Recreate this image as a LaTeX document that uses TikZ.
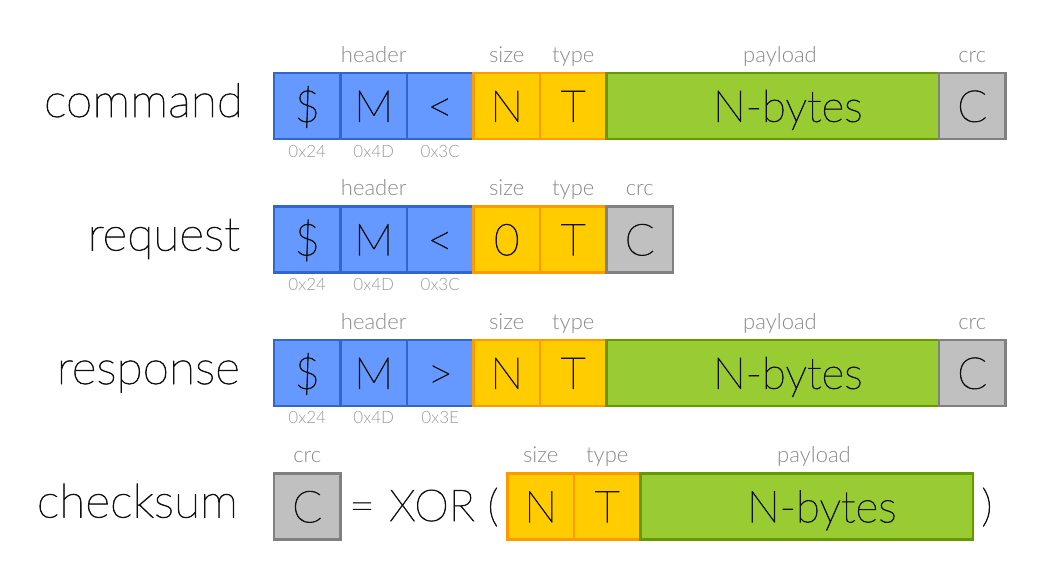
\documentclass[tikz,border=0pt]{standalone}
\usepackage{fontspec}
\setmainfont{Lato Thin}[FakeBold=1.6]
\newfontfamily\rowfont{Lato Thin}[FakeStretch=1.02,FakeBold=1.6]
\newfontfamily\smallfont{Lato Light}
\definecolor{bfill}{HTML}{6699FF}
\definecolor{bdraw}{HTML}{3366CC}
\definecolor{yfill}{HTML}{FFCC00}
\definecolor{ydraw}{HTML}{FF9900}
\definecolor{gfill}{HTML}{99CC33}
\definecolor{gdraw}{HTML}{669900}
\definecolor{cfill}{HTML}{C0C0C0}
\definecolor{cdraw}{HTML}{808080}
\definecolor{lbl}{HTML}{8A8A8A}
\definecolor{hexc}{HTML}{9A9A9A}
\definecolor{ink}{HTML}{111111}
\begin{document}
\begin{tikzpicture}[x=1pt,y=-1pt,
  cell/.style={line width=2.8pt, minimum width=66.5pt, minimum height=66pt, inner sep=0pt, text=ink,
    font=\fontsize{44}{44}\selectfont, text height=31.5pt, text depth=0pt},
  hdrcell/.style={cell, fill=bfill, draw=bdraw},
  sizecell/.style={cell, fill=yfill, draw=ydraw},
  paycell/.style={cell, fill=gfill, draw=gdraw, minimum width=332.5pt},
  crccell/.style={cell, fill=cfill, draw=cdraw},
  toplbl/.style={text=lbl, font=\smallfont\fontsize{22}{22}\selectfont, inner sep=0pt, anchor=base},
  hexlbl/.style={text=hexc, font=\smallfont\fontsize{17}{17}\selectfont, inner sep=0pt, anchor=base},
  rowlbl/.style={text=ink, font=\rowfont\fontsize{47}{47}\selectfont, anchor=base east, inner sep=0pt},
  optxt/.style={text=ink, font=\fontsize{44}{44}\selectfont, inner sep=0pt, anchor=base}
]
\useasboundingbox (0,0) rectangle (1052,584);
% ---------- command ----------
\node[rowlbl] (lcmd) at (243,117) {command};
\node[hdrcell] (a1) at (307.25,106) {\$};
\node[hdrcell] (a2) at (373.75,106) {M};
\node[hdrcell] (a3) at (440.25,106) {<};
\node[sizecell] (a4) at (506.75,106) {N};
\node[sizecell] (a5) at (573.25,106) {T};
\node[paycell] (a6) at (772.75,106) {\hspace*{30pt}N-bytes};
\node[crccell] (a7) at (972.25,106) {C};
\node[toplbl] (ah) at (373.75,62) {header};
\node[toplbl] (as) at (506.75,62) {size};
\node[toplbl] (at) at (573.25,62) {type};
\node[toplbl] (ap) at (780,62) {payload};
\node[toplbl] (ac) at (972.25,62) {crc};
\node[hexlbl] (ax1) at (307.25,157) {0x24};
\node[hexlbl] (ax2) at (373.75,157) {0x4D};
\node[hexlbl] (ax3) at (440.25,157) {0x3C};
% ---------- request ----------
\node[rowlbl] (lreq) at (240,250.5) {request};
\node[hdrcell] (b1) at (307.25,239.5) {\$};
\node[hdrcell] (b2) at (373.75,239.5) {M};
\node[hdrcell] (b3) at (440.25,239.5) {<};
\node[sizecell] (b4) at (506.75,239.5) {0};
\node[sizecell] (b5) at (573.25,239.5) {T};
\node[crccell] (b6) at (639.75,239.5) {C};
\node[toplbl] (bh) at (373.75,195) {header};
\node[toplbl] (bs) at (506.75,195) {size};
\node[toplbl] (bt) at (573.25,195) {type};
\node[toplbl] (bc) at (639.75,195) {crc};
\node[hexlbl] (bx1) at (307.25,290) {0x24};
\node[hexlbl] (bx2) at (373.75,290) {0x4D};
\node[hexlbl] (bx3) at (440.25,290) {0x3C};
% ---------- response ----------
\node[rowlbl] (lres) at (240,384) {response};
\node[hdrcell] (c1) at (307.25,373) {\$};
\node[hdrcell] (c2) at (373.75,373) {M};
\node[hdrcell] (c3) at (440.25,373) {>};
\node[sizecell] (c4) at (506.75,373) {N};
\node[sizecell] (c5) at (573.25,373) {T};
\node[paycell] (c6) at (772.75,373) {\hspace*{30pt}N-bytes};
\node[crccell] (c7) at (972.25,373) {C};
\node[toplbl] (ch) at (373.75,329) {header};
\node[toplbl] (cs) at (506.75,329) {size};
\node[toplbl] (ct) at (573.25,329) {type};
\node[toplbl] (cp) at (780,329) {payload};
\node[toplbl] (cc) at (972.25,329) {crc};
\node[hexlbl] (cx1) at (307.25,423) {0x24};
\node[hexlbl] (cx2) at (373.75,423) {0x4D};
\node[hexlbl] (cx3) at (440.25,423) {0x3E};
% ---------- checksum ----------
\node[rowlbl] (lchk) at (238,517.5) {checksum};
\node[crccell] (d1) at (307.25,506.5) {C};
\node[optxt] (deq) at (362,521) {=};
\node[optxt] (dxor) at (432,521) {XOR};
\node[optxt] (dlp) at (493,521) {(};
\node[sizecell] (d2) at (540.75,506.5) {N};
\node[sizecell] (d3) at (607.25,506.5) {T};
\node[paycell] (d4) at (806.75,506.5) {\hspace*{30pt}N-bytes};
\node[optxt] (drp) at (987,521) {)};
\node[toplbl] (dc) at (307.25,462) {crc};
\node[toplbl] (ds) at (540.75,462) {size};
\node[toplbl] (dt) at (607.25,462) {type};
\node[toplbl] (dp) at (814,462) {payload};
\end{tikzpicture}
\end{document}
